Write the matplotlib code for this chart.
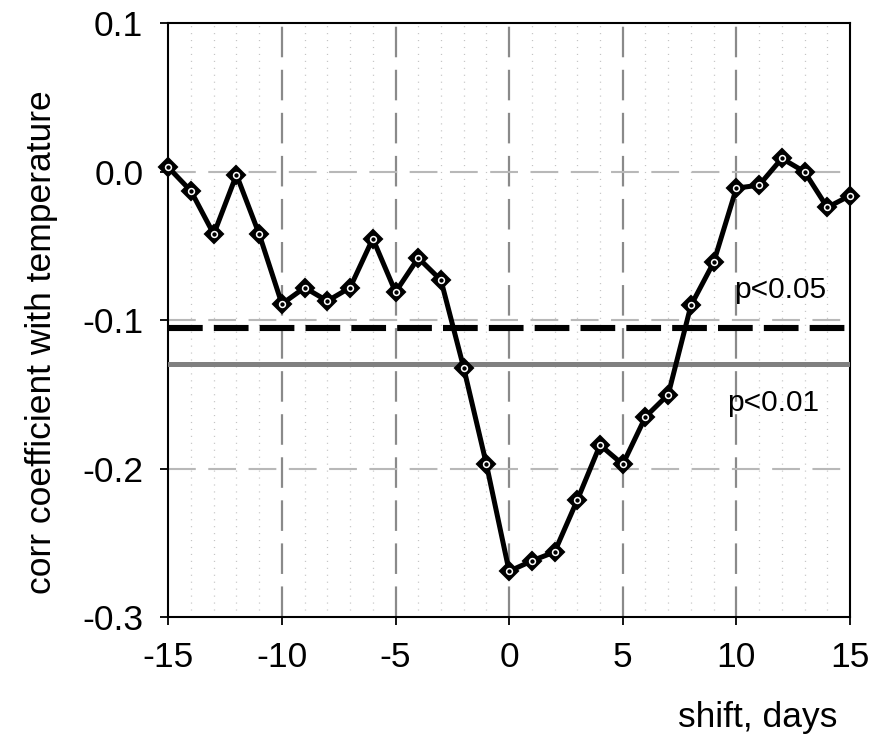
import numpy as np
import matplotlib
matplotlib.use('Agg')
import matplotlib.pyplot as plt
from matplotlib.ticker import MultipleLocator, FormatStrFormatter

# data
shift_days = list(range(-15, 16))
corr = [0.003, -0.013, -0.042, -0.002, -0.042, -0.089, -0.078, -0.087,
        -0.078, -0.045, -0.081, -0.058, -0.073, -0.132, -0.197, -0.269,
        -0.262, -0.256, -0.221, -0.184, -0.197, -0.165, -0.150, -0.090,
        -0.061, -0.011, -0.009, 0.009, 0.000, -0.024, -0.016]
p05_level = -0.105
p01_level = -0.1295
p05_label = 'p<0.05'
p01_label = 'p<0.01'

plt.rcParams['font.family'] = ['Liberation Sans', 'DejaVu Sans']
plt.rcParams['lines.scale_dashes'] = False
plt.rcParams['axes.unicode_minus'] = False

fig = plt.figure(figsize=(8.82, 7.41), dpi=100)
ax = fig.add_axes([168.3 / 882, 1 - 617.3 / 741, (850 - 168.3) / 882, (617.3 - 23.3) / 741])

ax.set_xlim(-15, 15)
ax.set_ylim(-0.3, 0.1)
ax.xaxis.set_major_locator(MultipleLocator(5))
ax.xaxis.set_minor_locator(MultipleLocator(1))
ax.yaxis.set_major_locator(MultipleLocator(0.1))
ax.yaxis.set_major_formatter(FormatStrFormatter('%.1f'))

# grid
for xv in range(-10, 15, 5):
    ax.axvline(xv, color='#8a8a8a', lw=1.6, ls=(0, (22, 9)), zorder=1)
for xv in range(-14, 15):
    if xv % 5:
        ax.axvline(xv, color='#c4c4c4', lw=0.9, ls=(0, (0.8, 4.2)), zorder=1)
for yv in [0.0, -0.1, -0.2]:
    ax.axhline(yv, color='#b8b8b8', lw=1.5, ls=(0, (20, 9)), zorder=1)

# significance levels
ax.axhline(p05_level, color='black', lw=4.4, ls=(0, (25, 8)), dash_capstyle='butt', zorder=3)
ax.axhline(p01_level, color='#808080', lw=3.6, zorder=3)

ax.plot(shift_days, corr, color='black', lw=3.6, marker='D', ms=9.5,
        mfc='black', mec='black', mew=1.5, zorder=5, clip_on=False)
ax.plot(shift_days, corr, ls='none', marker='o', ms=4.2, mfc='black',
        mec='white', mew=1.1, zorder=6, clip_on=False)

ax.text(9.9, -0.0847, p05_label, fontsize=21.5, ha='left', va='baseline')
ax.text(9.6, -0.161, p01_label, fontsize=21.5, ha='left', va='baseline')

for s in ax.spines.values():
    s.set_linewidth(1.5)
ax.tick_params(which='major', direction='out', length=6, width=1.3,
               labelsize=25.5)
ax.tick_params(axis='x', which='major', pad=11)
ax.tick_params(axis='y', which='major', pad=12)
ax.tick_params(which='minor', length=0)

fig.text(42 / 882, 1 - 342 / 741, 'corr coefficient with temperature',
         rotation=90, fontsize=25.5, ha='center', va='center')
fig.text(837 / 882, 1 - 727 / 741, 'shift, days', fontsize=25.5,
         ha='right', va='baseline')

fig.savefig('out.png', dpi=100)
